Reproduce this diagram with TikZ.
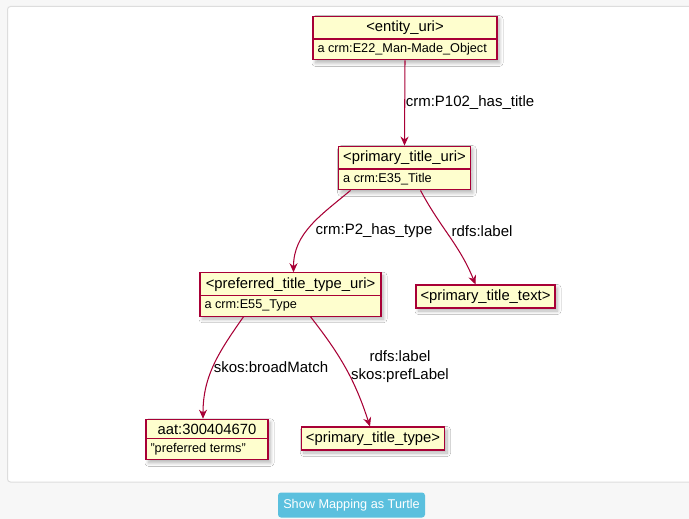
\documentclass[tikz,border=0pt]{standalone}
\usepackage{fontspec}
\setmainfont{Liberation Sans}
\usetikzlibrary{arrows.meta,shapes.multipart,shadows.blur}
\definecolor{umlred}{HTML}{A80036}
\definecolor{umlfill}{HTML}{FEFECE}
\definecolor{pagebg}{HTML}{F7F7F7}
\definecolor{panelline}{HTML}{DDDDDD}
\definecolor{btnblue}{HTML}{5BC0DE}
\newcommand{\attrfont}{\fontsize{12.7}{14}\selectfont}
\begin{document}
\begin{tikzpicture}[x=1pt,y=-1pt,
  umlbox/.style={draw=umlred, fill=umlfill, line width=1.1pt, inner xsep=4.5pt, inner ysep=4pt,
    blur shadow={shadow xshift=2.5pt, shadow yshift=-3pt, shadow blur steps=14, shadow blur radius=3.5pt, shadow opacity=30},
    font=\fontsize{14.8}{17}\selectfont},
  classbox/.style={umlbox, rectangle split, rectangle split parts=2,
    rectangle split part align={center,left}},
  edge/.style={draw=umlred, line width=1.05pt, -{Stealth[length=9pt,width=8pt]}},
  elabel/.style={font=\fontsize{15}{18}\selectfont, align=center, inner sep=1pt},
]
\useasboundingbox (0,0) rectangle (689,519);
% page and panel
\fill[pagebg] (0,0) rectangle (689,519);
\draw[panelline, fill=white, line width=1pt, rounded corners=3pt] (7.5,6.5) rectangle (720,482);

% nodes
\node[classbox, minimum width=184pt] (n1) at (405,38)
  {\textless entity\_uri\textgreater\nodepart{two}\attrfont a crm:E22\_Man-Made\_Object};
\node[classbox, minimum width=129pt] (n2) at (404.5,168)
  {\textless primary\_title\_uri\textgreater\nodepart{two}\attrfont a crm:E35\_Title};
\node[classbox, minimum width=181pt] (n3) at (290.5,294.5)
  {\textless preferred\_title\_type\_uri\textgreater\nodepart{two}\attrfont a crm:E55\_Type};
\node[umlbox, minimum width=139pt, minimum height=23pt] (n4) at (485.5,296.5)
  {\textless primary\_title\_text\textgreater};
\node[classbox, minimum width=122pt] (n5) at (207,439.5)
  {aat:300404670\nodepart{two}\attrfont "preferred terms"};
\node[umlbox, minimum width=142pt, minimum height=23pt] (n6) at (373,438.5)
  {\textless primary\_title\_type\textgreater};

% connectors
\draw[edge] (n1.south) -- (n2.north);
\draw[edge] ([xshift=-54pt]n2.south) to[out=-140,in=90] ([xshift=3pt]n3.north);
\draw[edge] ([xshift=16pt]n2.south) to[out=-62,in=112] ([xshift=-10pt]n4.north);
\draw[edge] ([xshift=-47pt]n3.south) to[out=-125,in=90] ([xshift=-4pt]n5.north);
\draw[edge] ([xshift=20pt]n3.south) to[out=-52,in=108] ([xshift=-3pt]n6.north);

% connector labels
\node[elabel] (l1) at (470,103) {crm:P102\_has\_title};
\node[elabel] (l2) at (374,231) {crm:P2\_has\_type};
\node[elabel] (l3) at (482,231) {rdfs:label};
\node[elabel] (l4) at (271,367) {skos:broadMatch};
\node[elabel] (l5) at (400,367) {rdfs:label\\skos:prefLabel};

% button
\node[fill=btnblue, rounded corners=3pt, minimum width=147pt, minimum height=25pt,
  text=white, font=\fontsize{12.7}{14}\selectfont] (btn) at (351.5,505) {Show Mapping as Turtle};
\end{tikzpicture}
\end{document}
